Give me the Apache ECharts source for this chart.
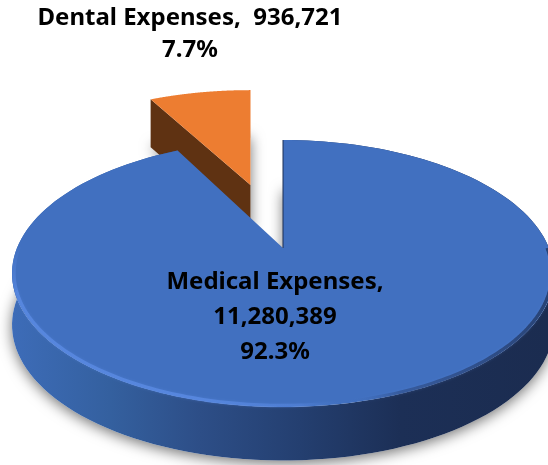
<!DOCTYPE html>
<html><head><meta charset="utf-8">
<style>html,body{margin:0;padding:0;background:#fff}#c{width:548px;height:465px}</style>
<script src="https://cdn.jsdelivr.net/npm/echarts@6/dist/echarts.min.js"></script>
</head><body><div id="c"></div>
<script>
const categories = ['Dental Expenses', 'Medical Expenses'];
const values = [936721, 11280389];

const total = values.reduce((a, b) => a + b, 0);
const dentalAngle = values[0] / total * 2 * Math.PI;
const G = echarts.graphic;
const P = 0.191;
const looks = [
  { tip: [250.5, 185], R: 252, K: 113, depth: 50, from: 2 * Math.PI - dentalAngle, to: 2 * Math.PI },
  { tip: [283, 248], R: 266, K: 128.6, depth: 51, from: 0, to: 2 * Math.PI - dentalAngle }
];
const labelSpec = [
  { x: 190, y: 34, sep: ',  ', lh: 32 },
  { x: 275, y: 317, sep: ',\n', lh: 35 }
];
function proj(s, u, v, d) {
  const w = 1 + P * v, w2 = 1 + 0.25 * P * v;
  return [s.tip[0] + s.R * u / w, s.tip[1] - s.K * v / w + (d || 0) / w2];
}
function arc(s, a0, a1, d, r) {
  const n = 160, pts = [], k = r || 1;
  for (let i = 0; i <= n; i++) {
    const a = a0 + (a1 - a0) * i / n;
    pts.push(proj(s, k * Math.sin(a), k * Math.cos(a), d));
  }
  return pts;
}
function lin(stops) {
  return new G.LinearGradient(12, 0, 548, 0, stops.map(s => ({ offset: (s[0] - 12) / 536, color: s[1] })), true);
}
function renderItem(params) {
  const i = params.dataIndex, s = looks[i], kids = [];
  const top = arc(s, s.from, s.to, 0), bot = arc(s, s.from, s.to, s.depth);
  const tip0 = proj(s, 0, 0, 0), tipD = proj(s, 0, 0, s.depth);
  kids.push({ type: 'polygon', shape: { points: [tipD].concat(bot) },
    style: { fill: '#fff', shadowBlur: 14, shadowColor: 'rgba(0,0,0,0.55)', shadowOffsetY: i ? 3 : 0, shadowOffsetX: 0 } });
  if (i === 0) {
    kids.push({ type: 'polygon', shape: { points: [tip0, top[0], bot[0], tipD] }, style: { fill: '#5f3212' } });
    kids.push({ type: 'polygon', shape: { points: [tip0].concat(top) }, style: { fill: '#ed7d31' } });
  } else {
    kids.push({ type: 'polygon', shape: { points: top.concat(bot.slice().reverse()) },
      style: { fill: lin([[12, '#3d6cb8'], [110, '#34609f'], [200, '#2d4e87'], [300, '#243f70'], [400, '#1c2f56'], [548, '#1b2c50']]) } });
    kids.push({ type: 'polygon', shape: { points: [tip0].concat(top) }, style: { fill: '#4170c0' } });
    kids.push({ type: 'polyline', shape: { points: [tip0, top[0]] }, style: { stroke: '#1d2f55', lineWidth: 1, fill: 'none' } });
    const light = 'rgba(88,136,224,0.9)';
    kids.push({ type: 'polyline', shape: { points: arc(s, 1.60 * Math.PI, 1.40 * Math.PI, 0, 0.993) },
      style: { fill: 'none', lineWidth: 3.5, stroke: new G.LinearGradient(0, 245, 0, 300, [{ offset: 0, color: 'rgba(88,136,224,0)' }, { offset: 1, color: light }], true) } });
    kids.push({ type: 'polyline', shape: { points: arc(s, 1.40 * Math.PI, 0.5 * Math.PI, 0, 0.993) },
      style: { fill: 'none', lineWidth: 3.5, shadowBlur: 3, shadowColor: 'rgba(88,136,224,0.4)', stroke: lin([[12, light], [200, light], [300, 'rgba(88,136,224,0.45)'], [345, 'rgba(65,112,192,0)'], [400, 'rgba(40,66,118,0.5)'], [548, 'rgba(30,50,90,0.75)']]) } });
  }
  const l = labelSpec[i];
  const pct = (values[i] / total * 100).toFixed(1) + '%';
  kids.push({ type: 'text', z2: 10, style: {
    text: categories[i] + l.sep + values[i].toLocaleString('en-US') + '\n' + pct,
    x: l.x, y: l.y, align: 'center', verticalAlign: 'middle', lineHeight: l.lh,
    font: 'bold 24px "Noto Sans"', fill: '#000' } });
  return { type: 'group', children: kids };
}
const chart = echarts.init(document.getElementById('c'), null, { renderer: 'canvas' });
chart.setOption({
  animation: false,
  series: [{ type: 'custom', coordinateSystem: 'none', silent: true, clip: false,
    renderItem, data: categories.map((c, i) => ({ name: c, value: [values[i]] })) }]
});
</script></body></html>
